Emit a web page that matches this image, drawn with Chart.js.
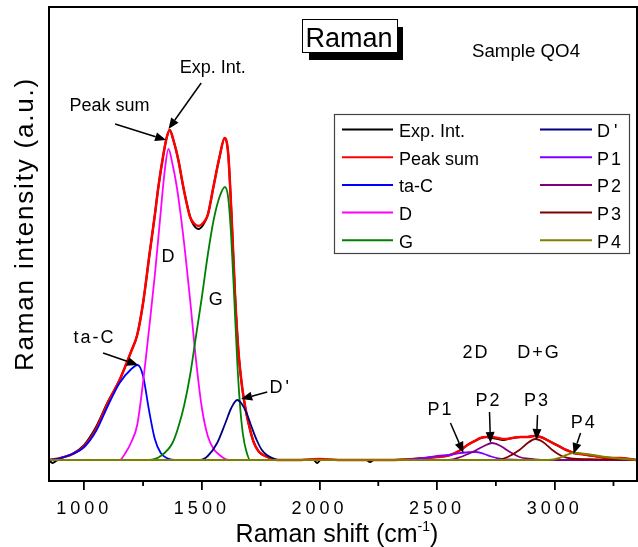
<!DOCTYPE html>
<html><head><meta charset="utf-8">
<script src="https://cdn.jsdelivr.net/npm/chart.js@4.4.0/dist/chart.umd.min.js"></script>
<style>html,body{margin:0;padding:0;background:#fff;}</style>
</head><body>
<canvas id="c" width="638" height="547"></canvas>
<script>
const FONT = "'Liberation Sans', Arial, sans-serif";

// ---- data (x: Raman shift cm-1, y: intensity a.u.) ----
const expX = [850,865,880,900,950,1000,1030,1050,1100,1150,1180,1200,1225,1250,1278,1300,1315,1336,1350,1363,1380,1400,1421,1450,1465,1486,1505,1525,1549,1575,1597,1612,1627,1641,1655,1670,1685,1700,1720,1740,1760,1790,1820,1900,1975,1990,2005,2100,2200,2215,2230,2300,2400,2450,2500,2556,2600,2629,2660,2685,2710,2734,2760,2784,2820,2855,2885,2912,2940,2968,3000,3025,3050,3081,3110,3139,3170,3195,3240,3280,3320,3350];
const expY = [0,-3,-1,2,6,15,25,33,58,80,97,109,125,157,207,245,273,305,322,330,319,300,273,243,235,231,235,245,273,303,322,306,240,165,110,75,52,35,18,9,5,2,0,0,0,-3,0,0,0,-2,0,0,1,2,3,5,10,15,19,22,23,22,21,20,22,23,23,24,23,20,16,13,10,7,6,5,4,3,2,2,1,0];

const sumX = [850,900,950,1000,1050,1100,1150,1180,1200,1225,1250,1278,1300,1315,1336,1350,1363,1380,1400,1421,1450,1465,1486,1505,1525,1549,1575,1597,1612,1627,1641,1655,1670,1685,1700,1720,1740,1760,1790,1820,1900,2000,2100,2200,2300,2400,2450,2500,2556,2600,2629,2660,2685,2710,2734,2760,2784,2820,2855,2885,2912,2940,2968,3000,3025,3050,3081,3110,3139,3170,3195,3240,3280,3320,3350];
const sumY = [0,2,6,14,31,57,80,97,109,125,157,207,245,273,305,322,330,319,300,273,243,237,234,237,245,273,303,322,306,240,165,110,75,52,35,18,9,5,2,0,0,1,0,0,0,1,2,3,5,10,15,19,22,23,23,22,21,22,23,23,24,23,20,16,13,10,7,6,5,4,3,2,2,1,0];

const taCX = [850,900,950,1000,1050,1100,1150,1200,1227,1250,1275,1300,1325,1350,1400,3350];
const taCY = [0,2,6,13,29,54,77,91,95,84,50,21,7,2,0,0];

const dX = [850,1150,1175,1200,1225,1250,1275,1300,1325,1340,1358,1375,1392,1410,1430,1450,1475,1500,1525,1550,1575,1600,1625,3350];
const dY = [0,0,7,18,35,78,130,185,248,285,311,296,275,245,205,160,100,52,24,11,5,1,0,0];

const gX = [850,1275,1325,1375,1400,1425,1450,1475,1500,1525,1550,1575,1598,1612,1625,1638,1650,1662,1675,1690,1705,3350];
const gY = [0,0,4,17,33,55,85,124,163,205,240,263,273,262,222,160,100,55,25,8,0,0];

const dpX = [850,1493,1525,1565,1600,1625,1650,1670,1690,1710,1733,1755,1776,1800,1825,3350];
const dpY = [0,0,4,17,37,52,60,56,47,34,20,10,5,2,0,0];

const p1X = [850,2350,2400,2450,2500,2550,2600,2663,2700,2730,2760,2800,2850,3350];
const p1Y = [0,0,1,2,4,5,7,8,6,3.5,1.5,0.5,0,0];

const p2X = [850,2550,2600,2650,2700,2734,2770,2810,2850,2900,2950,3350];
const p2Y = [0,0,3,8,14,17,14,8,3,1,0,0];

const p3X = [850,2750,2800,2850,2880,2918,2950,2990,3030,3070,3150,3250,3350];
const p3Y = [0,0,3,10,16,21,18,10,4,1.5,0.8,0.3,0];

const p4X = [850,2975,3020,3050,3080,3105,3150,3200,3250,3300,3350];
const p4Y = [0,0,2,5,7,6.8,5.5,3.5,2,1,0];

const labels = ['Exp. Int.','Peak sum','ta-C','D','G',"D'",'P1','P2','P3','P4'];
const xTicks = [1000,1500,2000,2500,3000];

// ---- styles ----
const colors = ['#000000','#ff0000','#0000ff','#ff00ff','#008000','#000080','#8000ff','#800080','#800000','#808000'];
const widths = [2,2.5,1.8,1.8,1.8,1.8,1.8,1.8,1.8,2];
const seriesX = [expX,sumX,taCX,dX,gX,dpX,p1X,p2X,p3X,p4X];
const seriesY = [expY,sumY,taCY,dY,gY,dpY,p1Y,p2Y,p3Y,p4Y];

const datasets = labels.map((lab,i)=>({
  label: lab,
  data: seriesX[i].map((x,j)=>({x:x,y:seriesY[i][j]})),
  borderColor: colors[i],
  backgroundColor: colors[i],
  borderWidth: widths[i],
  pointRadius: 0,
  fill: false,
  cubicInterpolationMode: 'monotone',
  order: 10 - i
}));

// annotations in data units: text centre (tx,ty), arrow tail (ax0,ay0) -> head (ax1,ay1)
const notes = [
  {t:'Exp. Int.', tx:1546, ty:392, a:[1497,377,1358,331]},
  {t:'Peak sum', tx:1107, ty:354, a:[1131,336,1348,320]},
  {t:'ta-C', tx:1039, ty:122, a:[1080,107,1229,95], ls:2},
  {t:'D', tx:1356, ty:203},
  {t:'G', tx:1559, ty:160},
  {t:"D'", tx:1829, ty:72, a:[1778,68,1667,61], ls:3},
  {t:'2D', tx:2661, ty:107, ls:2},
  {t:'D+G', tx:2929, ty:107, ls:2},
  {t:'P1', tx:2510, ty:50, a:[2557,37,2612,7], ls:2},
  {t:'P2', tx:2714, ty:59, a:[2723,48,2727,17], ls:2},
  {t:'P3', tx:2921, ty:59, a:[2927,45,2923,20], ls:2},
  {t:'P4', tx:3119, ty:37, a:[3110,27,3080,6], ls:2}
];

function arrow(ctx,x0,y0,x1,y1){
  const ang = Math.atan2(y1-y0,x1-x0);
  const L = 11, W = 4.5;
  const bx = x1 - L*Math.cos(ang), by = y1 - L*Math.sin(ang);
  ctx.beginPath(); ctx.moveTo(x0,y0); ctx.lineTo(bx,by);
  ctx.lineWidth = 1.5; ctx.strokeStyle = '#000'; ctx.stroke();
  ctx.beginPath(); ctx.moveTo(x1,y1);
  ctx.lineTo(bx + W*Math.sin(ang), by - W*Math.cos(ang));
  ctx.lineTo(bx - W*Math.sin(ang), by + W*Math.cos(ang));
  ctx.closePath(); ctx.fillStyle = '#000'; ctx.fill();
}

const deco = {
  id: 'deco',
  beforeDraw(chart){
    const ctx = chart.ctx;
    ctx.save(); ctx.fillStyle = '#fff'; ctx.fillRect(0,0,chart.width,chart.height); ctx.restore();
    ctx.letterSpacing = '4px';
  },
  afterDraw(chart){
    const ctx = chart.ctx, ca = chart.chartArea;
    const xs = chart.scales.x, ys = chart.scales.y;
    ctx.save();
    ctx.letterSpacing = '0px';
    // frame
    ctx.strokeStyle = '#000'; ctx.lineWidth = 2;
    ctx.strokeRect(ca.left, ca.top, ca.right-ca.left, ca.bottom-ca.top);
    // minor ticks
    ctx.lineWidth = 1.8;
    for (let v = 1250; v < 3350; v += 500){
      const px = xs.getPixelForValue(v);
      ctx.beginPath(); ctx.moveTo(px, ca.bottom); ctx.lineTo(px, ca.bottom+5); ctx.stroke();
    }
    ctx.fillStyle = '#000';
    // x title with superscript
    ctx.textBaseline = 'alphabetic'; ctx.textAlign = 'left';
    ctx.font = '25px ' + FONT;
    const s1 = 'Raman shift (cm', s3 = ')';
    const w1 = ctx.measureText(s1).width, w3 = ctx.measureText(s3).width;
    ctx.font = '14px ' + FONT; const w2 = ctx.measureText('-1').width;
    let sx = 337 - (w1+w2+w3)/2;
    ctx.font = '25px ' + FONT; ctx.fillText(s1, sx, 541.5);
    ctx.font = '14px ' + FONT; ctx.fillText('-1', sx+w1, 531);
    ctx.font = '25px ' + FONT; ctx.fillText(s3, sx+w1+w2, 541.5);
    // y title
    ctx.save();
    ctx.translate(33, 224); ctx.rotate(-Math.PI/2);
    ctx.font = '26px ' + FONT; ctx.textAlign = 'center'; ctx.letterSpacing = '1.8px';
    ctx.fillText('Raman intensity (a.u.)', 0, 0);
    ctx.restore();
    // title box
    ctx.fillStyle = '#000'; ctx.fillRect(309, 27, 94, 33);
    ctx.fillStyle = '#fff'; ctx.fillRect(302, 19, 95, 33);
    ctx.lineWidth = 1; ctx.strokeStyle = '#000'; ctx.strokeRect(302.5, 19.5, 95, 33);
    ctx.fillStyle = '#000'; ctx.font = '27px ' + FONT; ctx.textAlign = 'center';
    ctx.fillText('Raman', 349, 47);
    ctx.font = '18.7px ' + FONT; ctx.textAlign = 'left';
    ctx.fillText('Sample QO4', 472, 57);
    // legend
    ctx.fillStyle = '#fff'; ctx.fillRect(334, 114, 295, 139);
    ctx.strokeStyle = '#444'; ctx.lineWidth = 1.2; ctx.strokeRect(334.5, 114.5, 295, 139);
    ctx.font = '18px ' + FONT; ctx.textAlign = 'left';
    chart.data.datasets.forEach((ds,i)=>{
      const col = i < 5 ? 0 : 1, row = i % 5;
      const ly = 129.5 + row*27.7;
      const lx0 = col ? 540 : 342, lx1 = col ? 592 : 393, tx = col ? 597 : 399;
      ctx.strokeStyle = ds.borderColor; ctx.lineWidth = 2;
      ctx.beginPath(); ctx.moveTo(lx0, ly); ctx.lineTo(lx1, ly); ctx.stroke();
      ctx.fillStyle = '#000';
      ctx.letterSpacing = /[0-9']/.test(ds.label) ? (ds.label.indexOf("'")>=0 ? '4px' : '2px') : '0px';
      ctx.fillText(ds.label, tx, ly + 7.3);
    });
    ctx.letterSpacing = '0px';
    // annotations
    notes.forEach(n=>{
      ctx.font = '18px ' + FONT;
      ctx.textAlign = 'center'; ctx.textBaseline = 'middle';
      ctx.letterSpacing = (n.ls || 0) + 'px';
      ctx.fillStyle = '#000';
      ctx.fillText(n.t, xs.getPixelForValue(n.tx) + (n.ls||0)/2, ys.getPixelForValue(n.ty));
      ctx.letterSpacing = '0px';
      if (n.a) arrow(ctx, xs.getPixelForValue(n.a[0]), ys.getPixelForValue(n.a[1]), xs.getPixelForValue(n.a[2]), ys.getPixelForValue(n.a[3]));
    });
    ctx.restore();
  }
};

new Chart(document.getElementById('c'), {
  type: 'line',
  data: { datasets: datasets },
  options: {
    responsive: false,
    animation: false,
    layout: { padding: { top: 7, right: 1, left: 0, bottom: 0 } },
    plugins: { legend: { display: false }, tooltip: { enabled: false }, title: { display: false } },
    scales: {
      x: {
        type: 'linear', position: 'bottom', min: 850, max: 3350,
        afterBuildTicks: s => { s.ticks = xTicks.map(v => ({ value: v })); },
        ticks: { autoSkip: false, maxRotation: 0, color: '#000', padding: 8,
                 font: { family: FONT, size: 18 },
                 callback: v => String(v) },
        grid: { display: true, drawOnChartArea: false, drawTicks: true, tickLength: 9, color: '#000', lineWidth: 1.8 },
        border: { display: false },
        afterFit: s => { s.height = 66; }
      },
      y: {
        type: 'linear', min: -21, max: 453,
        ticks: { display: false },
        grid: { display: false },
        border: { display: false },
        afterFit: s => { s.width = 49; }
      }
    }
  },
  plugins: [deco]
});
</script>
</body></html>
